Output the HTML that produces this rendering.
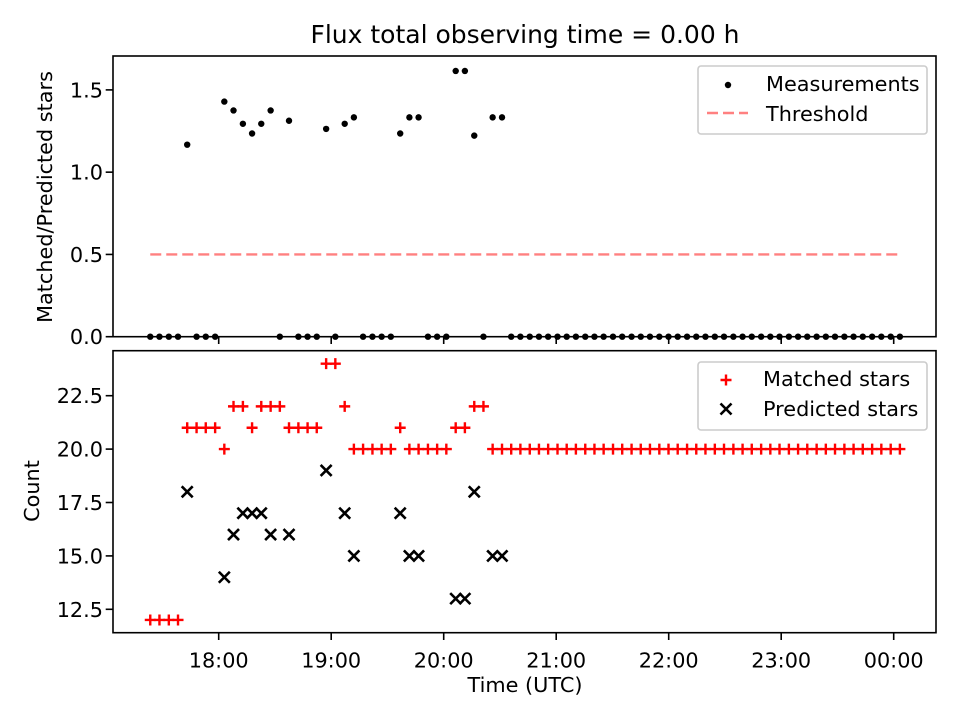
<!DOCTYPE html>
<html><head><meta charset="utf-8"><style>
html,body{margin:0;padding:0;background:#fff;}
svg{display:block;font-family:"DejaVu Sans","Liberation Sans",sans-serif;}
</style></head><body>
<svg id="chart" width="960" height="720" viewBox="0 0 960 720">
<rect width="960" height="720" fill="#fff"/>
<text x="525" y="43" text-anchor="middle" font-size="25" fill="#000">Flux total observing time = 0.00 h</text>
<g id="top"></g><g id="bot"></g>
</svg>
<script>
// minutes relative to 18:00 UTC
const times = [-36.5,-31.6,-26.6,-21.7,-16.8,-11.8,-6.9,-1.9,3.0,7.9,12.9,17.8,22.7,27.7,32.6,37.5,42.5,47.4,52.3,57.3,62.2,67.2,72.1,77.0,82.0,86.9,91.8,96.8,101.7,106.6,111.6,116.5,121.4,126.4,131.3,136.3,141.2,146.1,151.1,156.0,160.9,165.9,170.8,175.7,180.7,185.6,190.5,195.5,200.4,205.3,210.3,215.2,220.2,225.1,230.0,235.0,239.9,244.8,249.8,254.7,259.6,264.6,269.5,274.5,279.4,284.3,289.3,294.2,299.1,304.1,309.0,313.9,318.9,323.8,328.7,333.7,338.6,343.5,348.5,353.4,358.4,363.3];
const matched = [12,12,12,12,21,21,21,21,20,22,22,21,22,22,22,21,21,21,21,24,24,22,20,20,20,20,20,21,20,20,20,20,20,21,21,22,22,20,20,20,20,20,20,20,20,20,20,20,20,20,20,20,20,20,20,20,20,20,20,20,20,20,20,20,20,20,20,20,20,20,20,20,20,20,20,20,20,20,20,20,20,20];
const N = null;
const predicted = [N,N,N,N,18,N,N,N,14,16,17,17,17,16,N,16,N,N,N,19,N,17,15,N,N,N,N,17,15,15,N,N,N,13,13,18,N,15,15,N,N,N,N,N,N,N,N,N,N,N,N,N,N,N,N,N,N,N,N,N,N,N,N,N,N,N,N,N,N,N,N,N,N,N,N,N,N,N,N,N,N,N];
const ratio = [0,0,0,0,1.167,0,0,0,1.429,1.375,1.294,1.235,1.294,1.375,0,1.3125,0,0,0,1.263,0,1.294,1.333,0,0,0,0,1.235,1.333,1.333,0,0,0,1.615,1.615,1.222,0,1.333,1.333,0,0,0,0,0,0,0,0,0,0,0,0,0,0,0,0,0,0,0,0,0,0,0,0,0,0,0,0,0,0,0,0,0,0,0,0,0,0,0,0,0,0,0];
const threshold = 0.5;
const xTickMinutes = [0,60,120,180,240,300,360];
const xTickLabels = ["18:00","19:00","20:00","21:00","22:00","23:00","00:00"];
const topTicks = [0,0.5,1.0,1.5];
const topTickLabels = ["0.0","0.5","1.0","1.5"];
const botTicks = [12.5,15,17.5,20,22.5];
const botTickLabels = ["12.5","15.0","17.5","20.0","22.5"];

const NS="http://www.w3.org/2000/svg";
function mk(parent,tag,attrs){const e=document.createElementNS(NS,tag);for(const k in attrs)e.setAttribute(k,attrs[k]);parent.appendChild(e);return e;}
const L=113,R=936;
const x=m=>218.7+m*112.5/60;
const TT=56,TB=336.7, BT=350.7,BB=632.7;
const yTop=v=>TB-v*(TB-TT)/1.706;
const yBot=v=>609.3-(v-12.5)*21.36;
const gT=document.getElementById('top'), gB=document.getElementById('bot');
const FS=20.8;

function frame(g,top,bot,name){
  const r=mk(g,'rect',{x:L,y:top,width:R-L,height:bot-top,fill:'none',stroke:'#000','stroke-width':1.6});
  
  
  xTickMinutes.forEach((m,i)=>{
    const t=mk(g,'line',{x1:x(m),x2:x(m),y1:bot,y2:bot+7.3,stroke:'#000','stroke-width':1.6});
    
    
  });
}
function yticks(g,ticks,labels,fy){
  ticks.forEach((v,i)=>{
    mk(g,'line',{x1:L-7.3,x2:L,y1:fy(v),y2:fy(v),stroke:'#000','stroke-width':1.6});
    const t=mk(g,'text',{x:L-10,y:fy(v)+7.5,'text-anchor':'end','font-size':FS,fill:'#000'});
    t.textContent=labels[i];
    
    
  });
}
frame(gT,TT,TB,'top-axes');
frame(gB,BT,BB,'bottom-axes');
yticks(gT,topTicks,topTickLabels,yTop);
yticks(gB,botTicks,botTickLabels,yBot);
xTickMinutes.forEach((m,i)=>{
  const t=mk(gB,'text',{x:x(m),y:BB+35,'text-anchor':'middle','font-size':FS,fill:'#000'});
  t.textContent=xTickLabels[i];
  
  
});
let t;
t=mk(gB,'text',{x:525,y:692,'text-anchor':'middle','font-size':FS});t.textContent='Time (UTC)';


t=mk(gT,'text',{x:0,y:0,'text-anchor':'middle','font-size':FS,transform:'translate(52,197) rotate(-90)'});t.textContent='Matched/Predicted stars';


t=mk(gB,'text',{x:0,y:0,'text-anchor':'middle','font-size':FS,transform:'translate(39,491) rotate(-90)'});t.textContent='Count';



// threshold
const th=mk(gT,'line',{x1:x(times[0]),x2:x(times[times.length-1]),y1:yTop(threshold),y2:yTop(threshold),stroke:'#ff8080','stroke-width':2.4,'stroke-dasharray':'11,5'});


// measurements
ratio.forEach((v,i)=>{
  const c=mk(gT,'circle',{cx:x(times[i]),cy:yTop(v),r:3.2,fill:'#000'});
  
  
});
function plus(g,cx,cy,s,col){return mk(g,'path',{d:`M${cx-s},${cy}H${cx+s}M${cx},${cy-s}V${cy+s}`,stroke:col,'stroke-width':2.4,fill:'none'});}
function cross(g,cx,cy,s,col){return mk(g,'path',{d:`M${cx-s},${cy-s}L${cx+s},${cy+s}M${cx-s},${cy+s}L${cx+s},${cy-s}`,stroke:col,'stroke-width':2.6,fill:'none'});}
matched.forEach((v,i)=>{
  const p=plus(gB,x(times[i]),yBot(v),5.5,'#ff0000');
  
  
});
predicted.forEach((v,i)=>{
  if(v===null)return;
  const p=cross(gB,x(times[i]),yBot(v),5.5,'#000');
  
  
});
// legends
function legend(g,y0,name){const r=mk(g,'rect',{x:L+585,y:y0,width:229,height:68,rx:3,fill:'#fff','fill-opacity':0.8,stroke:'#ccc','stroke-width':1.6});

}
legend(gT,66,'top-legend');
mk(gT,'circle',{cx:728,cy:85,r:3.2,fill:'#000'});
mk(gT,'line',{x1:707,x2:748,y1:113,y2:113,stroke:'#ff8080','stroke-width':2.4,'stroke-dasharray':'11,5'});
t=mk(gT,'text',{x:766,y:91,'font-size':FS});t.textContent='Measurements';


t=mk(gT,'text',{x:766,y:121,'font-size':FS});t.textContent='Threshold';


legend(gB,362,'bottom-legend');
plus(gB,726,380,5.5,'#ff0000');cross(gB,726,409,5.5,'#000');
t=mk(gB,'text',{x:763,y:386,'font-size':FS});t.textContent='Matched stars';


t=mk(gB,'text',{x:763,y:416,'font-size':FS});t.textContent='Predicted stars';


</script>
</body></html>
